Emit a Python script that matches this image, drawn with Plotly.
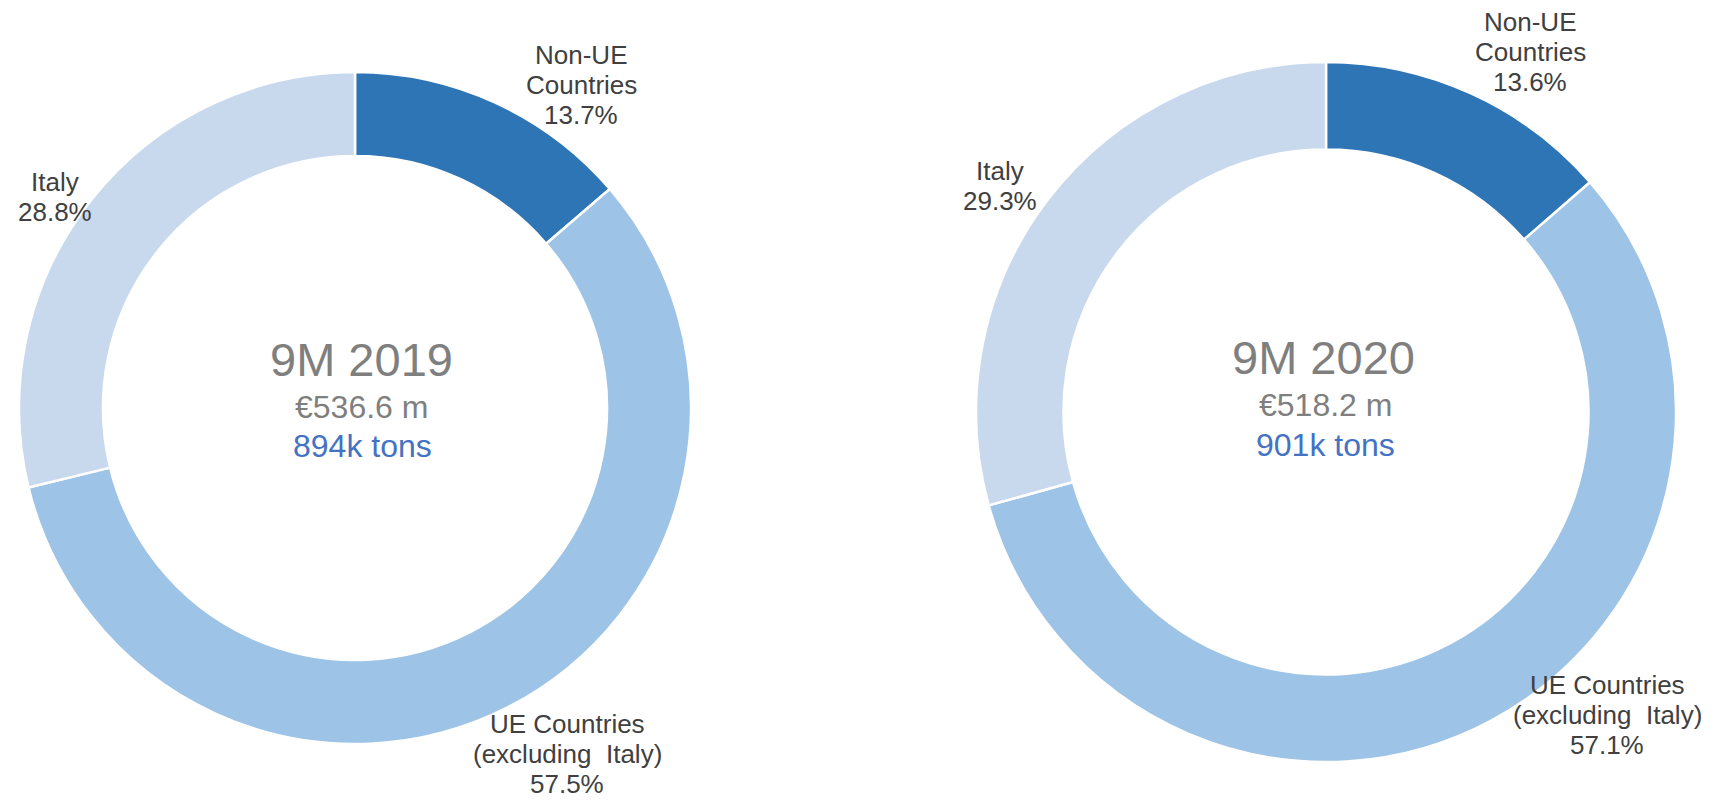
import plotly.graph_objects as go

W, H = 1714, 802
OFF = 8  # default page body margin
FW, FH = W - 2 * OFF, H - 2 * OFF

categories = ["Non-UE Countries", "UE Countries (excluding Italy)", "Italy"]
label_lines = [["Non-UE", "Countries"], ["UE Countries", "(excluding  Italy)"], ["Italy"]]
values_2019 = [13.7, 57.5, 28.8]
values_2020 = [13.6, 57.1, 29.3]
titles = ["9M 2019", "9M 2020"]
revenues = ["€536.6 m", "€518.2 m"]
tons = ["894k tons", "901k tons"]
colors = ["#2E75B6", "#9DC3E6", "#C9D9ED"]

FONT = "Liberation Sans, Arial, sans-serif"
LABEL_SIZE = 26
LINE_STEP = 30

# pie geometry in window pixels (center x, center y, radius, hole)
pies = [(355, 408, 336, 0.75), (1326, 412, 350, 0.75)]
# label anchor: (center x, y of first line's visual centre) in window pixels
label_pos = [
    [(581, 57), (567, 726), (55, 184)],
    [(1530, 24), (1607, 687), (1000, 173)],
]
# centre text positions (x, y) per pie for title, revenue, tons
center_pos = [
    [(361, 362), (361, 409), (362, 448)],
    [(1323, 360), (1325, 407), (1325, 447)],
]


def px(x):
    return (x - OFF) / FW


def py(y):
    return 1 - (y - OFF) / FH


def add_text(anns, x, y, text, size, color):
    anns.append(dict(
        x=px(x), y=py(y - 0.06 * size), xref="paper", yref="paper", text=text,
        showarrow=False, xanchor="center", yanchor="middle", align="center",
        font=dict(family=FONT, size=size, color=color),
    ))


fig = go.Figure()
annotations = []
for i, vals in enumerate([values_2019, values_2020]):
    cx, cy, r, hole = pies[i]
    fig.add_trace(go.Pie(
        labels=categories,
        values=vals,
        hole=hole,
        sort=False,
        direction="clockwise",
        rotation=0,
        marker=dict(colors=colors, line=dict(color="white", width=2.5)),
        textinfo="none",
        hoverinfo="label+percent",
        showlegend=False,
        domain=dict(x=[px(cx - r), px(cx + r)], y=[py(cy + r), py(cy - r)]),
    ))
    for j, cat in enumerate(categories):
        lx, ly = label_pos[i][j]
        lines = label_lines[j] + [f"{vals[j]:.1f}%"]
        for k, line in enumerate(lines):
            add_text(annotations, lx, ly + k * LINE_STEP, line, LABEL_SIZE, "#404040")
    (tx, ty), (rx, ry), (nx, ny) = center_pos[i]
    add_text(annotations, tx, ty, titles[i], 47, "#7F7F7F")
    add_text(annotations, rx, ry, revenues[i], 32, "#7F7F7F")
    add_text(annotations, nx, ny, tons[i], 32, "#4472C4")

fig.update_layout(
    width=FW, height=FH,
    margin=dict(l=0, r=0, t=0, b=0),
    paper_bgcolor="white", plot_bgcolor="white",
    annotations=annotations,
    font=dict(family=FONT),
)

fig.write_html("out.html")
